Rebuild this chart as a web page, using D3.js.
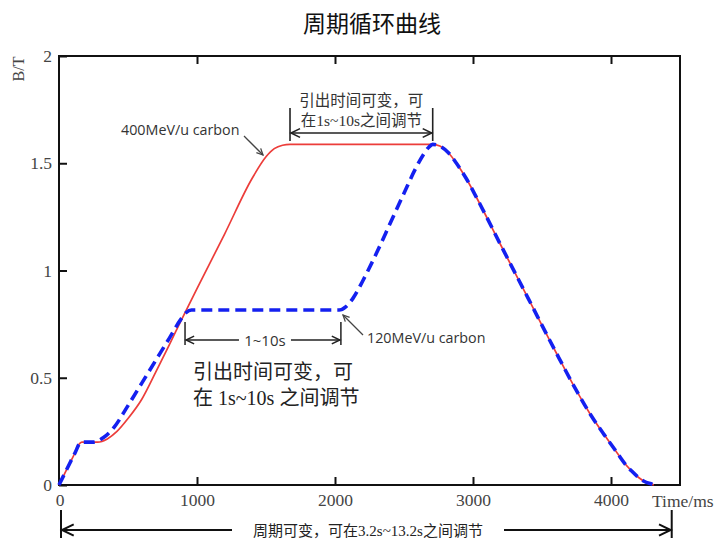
<!DOCTYPE html>
<html>
<head>
<meta charset="utf-8">
<script src="https://cdn.jsdelivr.net/npm/d3@7"></script>
<style>
  body { margin: 0; background: #fff; }
  text { font-family: "Liberation Serif", "Noto Sans CJK SC", serif; }
</style>
</head>
<body>
<script>
// ticks
const timeTicks = [0, 1000, 2000, 3000, 4000];
const fieldTicks = [0, 0.5, 1, 1.5, 2];

// 400MeV/u carbon, [time ms, B T]
const carbon400 = [
  [0, 0], [40, 0.052], [80, 0.104], [120, 0.155], [145, 0.19], [165, 0.2],
  [200, 0.2], [280, 0.2], [350, 0.215], [420, 0.25],
  [500, 0.31], [600, 0.40], [700, 0.525], [800, 0.655], [900, 0.786],
  [1000, 0.915], [1200, 1.17], [1400, 1.43], [1500, 1.53], [1560, 1.568],
  [1620, 1.584], [1674, 1.588], [2200, 1.588], [2708, 1.588]
];

// 120MeV/u carbon
const carbon120 = [
  [0, 0], [40, 0.052], [80, 0.104], [120, 0.155], [145, 0.19], [165, 0.2],
  [250, 0.2], [320, 0.22], [400, 0.27], [500, 0.37],
  [600, 0.475], [700, 0.58], [800, 0.685], [880, 0.77], [920, 0.803],
  [960, 0.816], [1500, 0.816], [2030, 0.816], [2080, 0.832], [2130, 0.87],
  [2200, 0.95], [2300, 1.08], [2400, 1.22], [2500, 1.36], [2580, 1.47],
  [2640, 1.54], [2680, 1.575], [2708, 1.588]
];

// shared ramp down
const rampDown = [
  [2708, 1.588], [2760, 1.58], [2820, 1.55], [2880, 1.50], [2950, 1.43],
  [3050, 1.31], [3200, 1.12], [3400, 0.87], [3600, 0.62], [3750, 0.44],
  [3850, 0.33], [3950, 0.235], [4000, 0.19], [4050, 0.145], [4100, 0.10],
  [4150, 0.065], [4200, 0.035], [4250, 0.014], [4300, 0.003], [4310, 0]
];

// annotation times
const flatTop400 = [1674, 2708];
const flatTop120 = [935, 2050];
const cycleSpan = [0, 4440];

const width = 719, height = 542;
const x = d3.scaleLinear().domain([0, 4500]).range([59, 680]);
const y = d3.scaleLinear().domain([0, 2]).range([485, 56]);

const svg = d3.select('body').append('svg')
  .attr('width', width)
  .attr('height', height);

// title
svg.append('text')
  .attr('x', 372).attr('y', 32)
  .attr('text-anchor', 'middle')
  .attr('font-size', 23)
  .attr('fill', '#111')
  .style('font-family', '"Noto Sans CJK SC", sans-serif')
  .text('周期循环曲线');

// axes, ticks inward
const axisFont = g => {
  g.select('.domain').remove();
  g.selectAll('line').attr('stroke', '#111').attr('stroke-width', 2);
  g.selectAll('text').attr('fill', '#444').attr('font-size', 17.5)
    .style('font-family', '"Liberation Serif", serif');
};

svg.append('g')
  .attr('transform', `translate(0,${y(0)})`)
  .call(d3.axisBottom(x).tickValues(timeTicks.slice(1)).tickSize(-8).tickPadding(9).tickFormat(d3.format('d')))
  .call(axisFont);

// "0" label under origin
svg.append('text')
  .attr('x', x(0) + 1).attr('y', y(0) + 21)
  .attr('text-anchor', 'middle')
  .attr('fill', '#444').attr('font-size', 17.5)
  .text('0');

svg.append('g')
  .attr('transform', `translate(0,${y(2)})`)
  .call(d3.axisTop(x).tickValues(timeTicks.slice(1)).tickSize(-8).tickFormat(''))
  .call(axisFont);

svg.append('g')
  .attr('transform', `translate(${x(0)},0)`)
  .call(d3.axisLeft(y).tickValues(fieldTicks).tickSize(-8).tickPadding(7).tickFormat(d => d))
  .call(axisFont);

// frame
svg.append('rect')
  .attr('x', x(0)).attr('y', y(2))
  .attr('width', x(4500) - x(0)).attr('height', y(0) - y(2))
  .attr('fill', 'none').attr('stroke', '#111').attr('stroke-width', 2);

svg.append('text')
  .attr('transform', `translate(24,${y(2) + 13}) rotate(-90)`)
  .attr('text-anchor', 'middle')
  .attr('font-size', 16).attr('fill', '#444')
  .text('B/T');

svg.append('text')
  .attr('x', 652).attr('y', 507)
  .attr('font-size', 17.5).attr('fill', '#444')
  .text('Time/ms');

// curves
const line = d3.line()
  .x(d => x(d[0]))
  .y(d => y(d[1]))
  .curve(d3.curveMonotoneX);

svg.append('path')
  .datum(carbon400.concat(rampDown.slice(1)))
  .attr('d', line)
  .attr('fill', 'none')
  .attr('stroke', '#ec3d3a')
  .attr('stroke-width', 1.7);

svg.append('path')
  .datum(carbon120.concat(rampDown.slice(1)))
  .attr('d', line)
  .attr('fill', 'none')
  .attr('stroke', '#1420f0')
  .attr('stroke-width', 3.6)
  .attr('stroke-dasharray', '11,6');

// arrow helpers
function head(g, px, py, dir, size, color, w) {
  // dir: angle the arrow points to (radians)
  const a1 = dir + Math.PI - 0.45, a2 = dir + Math.PI + 0.45;
  g.append('path')
    .attr('d', `M${px + size * Math.cos(a1)},${py + size * Math.sin(a1)}L${px},${py}L${px + size * Math.cos(a2)},${py + size * Math.sin(a2)}`)
    .attr('fill', 'none').attr('stroke', color).attr('stroke-width', w);
}

function bracket(x1, x2, ay, top, bottom, color, w, hs) {
  const g = svg.append('g');
  g.append('line').attr('x1', x1).attr('x2', x1).attr('y1', top).attr('y2', bottom)
    .attr('stroke', color).attr('stroke-width', w);
  g.append('line').attr('x1', x2).attr('x2', x2).attr('y1', top).attr('y2', bottom)
    .attr('stroke', color).attr('stroke-width', w);
  g.append('line').attr('x1', x1 + 1).attr('x2', x2 - 1).attr('y1', ay).attr('y2', ay)
    .attr('stroke', color).attr('stroke-width', w);
  head(g, x1 + 1, ay, Math.PI, hs, color, w);
  head(g, x2 - 1, ay, 0, hs, color, w);
  return g;
}

// top bracket for 400MeV/u flat top
bracket(x(flatTop400[0]), x(flatTop400[1]), 133, 108, 141, '#222', 1.6, 10);
const midTop = (x(flatTop400[0]) + x(flatTop400[1])) / 2;
svg.append('text').attr('x', midTop).attr('y', 106)
  .attr('text-anchor', 'middle').attr('font-size', 15.5).attr('fill', '#333')
  .text('引出时间可变，可');
svg.append('text').attr('x', midTop).attr('y', 126)
  .attr('text-anchor', 'middle').attr('font-size', 15.5).attr('fill', '#333')
  .text('在1s~10s之间调节');

// lower bracket for 120MeV/u flat top
bracket(x(flatTop120[0]) - 3, x(flatTop120[1]) - 1, 340, 322, 345, '#222', 1.5, 9);
const midLow = (x(flatTop120[0]) + x(flatTop120[1])) / 2;
svg.append('rect').attr('x', midLow - 26).attr('y', 330).attr('width', 52).attr('height', 20).attr('fill', '#fff');
svg.append('text').attr('x', midLow).attr('y', 346)
  .attr('text-anchor', 'middle').attr('font-size', 15).attr('fill', '#333')
  .style('font-family', '"Open Sans", sans-serif')
  .text('1~10s');

// labels with pointers
svg.append('text').attr('x', 121).attr('y', 135)
  .attr('font-size', 14.3).attr('fill', '#333')
  .style('font-family', '"Open Sans", sans-serif')
  .text('400MeV/u carbon');
const p1 = svg.append('g');
p1.append('line').attr('x1', 244).attr('y1', 136).attr('x2', 263).attr('y2', 155)
  .attr('stroke', '#444').attr('stroke-width', 1.3);
head(p1, 263, 155, Math.atan2(19, 19), 7, '#444', 1.3);

svg.append('text').attr('x', 367).attr('y', 343)
  .attr('font-size', 14.3).attr('fill', '#333')
  .style('font-family', '"Open Sans", sans-serif')
  .text('120MeV/u carbon');
const p2 = svg.append('g');
p2.append('line').attr('x1', 363).attr('y1', 335).attr('x2', 343).attr('y2', 315)
  .attr('stroke', '#444').attr('stroke-width', 1.3);
head(p2, 343, 315, Math.atan2(-20, -20), 7, '#444', 1.3);

// large note
svg.append('text').attr('x', 193).attr('y', 379)
  .attr('font-size', 20).attr('fill', '#222')
  .text('引出时间可变，可');
svg.append('text').attr('x', 193).attr('y', 405)
  .attr('font-size', 20).attr('fill', '#222')
  .text('在 1s~10s 之间调节');

// cycle arrow
bracket(x(cycleSpan[0]) + 2, x(cycleSpan[1]), 530, 510, 538, '#111', 2, 13);
svg.append('rect').attr('x', 232).attr('y', 518).attr('width', 272).attr('height', 24).attr('fill', '#fff');
svg.append('text').attr('x', 368).attr('y', 536)
  .attr('text-anchor', 'middle').attr('font-size', 15).attr('fill', '#222')
  .text('周期可变，可在3.2s~13.2s之间调节');
</script>
</body>
</html>
